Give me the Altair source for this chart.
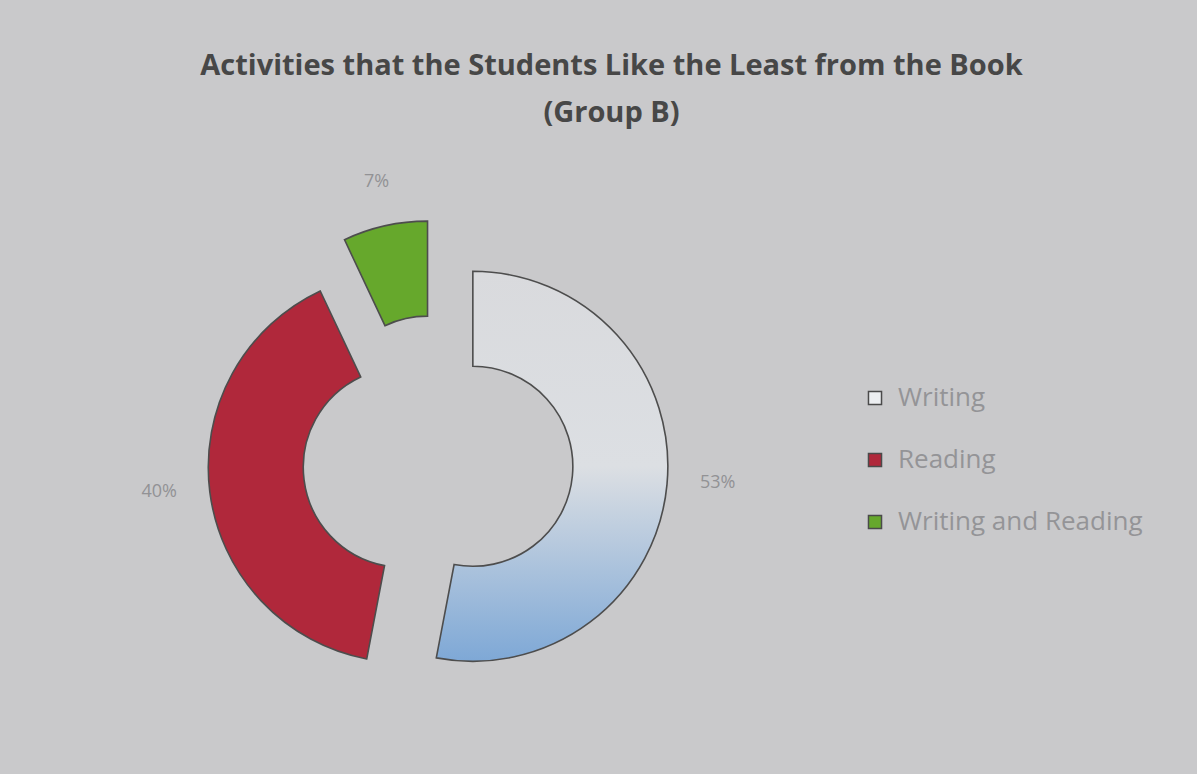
import math
import altair as alt
import pandas as pd

# ---- data ----
categories = ["Writing", "Reading", "Writing and Reading"]
values = [53, 40, 7]
label_texts = ["53%", "40%", "7%"]

# ---- styles ----
colors = ["#eceef1", "#b0283b", "#66a82c"]
explode = [35, 35, 48]
label_radius = [246, 246, 234]

W, H = 1197, 774
TOP = 140
CX, CY = 438, 463 - TOP
R_IN, R_OUT = 100, 195
FONT = "Open Sans"

df = pd.DataFrame({"category": categories, "value": values,
                   "label": label_texts, "order": list(range(len(categories)))})
total = sum(values)
theta_scale = alt.Scale(domain=[0, total], range=[0, 2 * math.pi])

base = alt.Chart(df).transform_window(
    end="sum(value)", sort=[alt.SortField("order")], frame=[None, 0]
).transform_calculate(
    start="datum.end - datum.value",
    mid="datum.end - datum.value / 2",
)

gradient = alt.Gradient(
    gradient="linear",
    stops=[alt.GradientStop(color="#d9dadd", offset=0),
           alt.GradientStop(color="#dcdfe3", offset=0.5),
           alt.GradientStop(color="#7ea8d6", offset=1)],
    x1=0, x2=0, y1=0, y2=1,
)

legend = alt.Legend(
    title=None, orient="none", legendX=862, legendY=245,
    symbolType="square", symbolSize=170, symbolStrokeColor="#4a4a4a",
    symbolStrokeWidth=1.5, labelFontSize=26, labelColor="#949497",
    labelFont=FONT, rowPadding=36, labelOffset=10, labelLimit=0,
)

layers = []
cum = 0
for i, cat in enumerate(categories):
    v = values[i]
    mid = (cum + v / 2) / total * 2 * math.pi
    cum += v
    dx = explode[i] * math.sin(mid)
    dy = -explode[i] * math.cos(mid)
    sub = base.transform_filter(alt.datum.category == cat)
    kw = dict(innerRadius=R_IN, outerRadius=R_OUT, x=CX, y=CY,
              xOffset=dx, yOffset=dy, stroke="#4d4d4d", strokeWidth=1.6)
    enc = dict(theta=alt.Theta("start:Q", scale=theta_scale), theta2="end:Q")
    if i == 0:
        arc = sub.mark_arc(fill=gradient, **kw).encode(**enc)
    else:
        arc = sub.mark_arc(**kw).encode(
            fill=alt.Fill("category:N",
                          scale=alt.Scale(domain=categories, range=colors),
                          legend=legend),
            **enc)
    txt = sub.mark_text(radius=label_radius[i], x=CX, y=CY, xOffset=dx,
                        yOffset=dy - 6, fontSize=18, color="#929295",
                        font=FONT).encode(
        theta=alt.Theta("mid:Q", scale=theta_scale), text="label:N")
    layers += [arc, txt]

chart = alt.layer(*layers).properties(
    width=W, height=H - TOP,
    padding={"left": 0, "top": TOP, "right": 0, "bottom": 0},
    autosize=alt.AutoSizeParams(type="none"),
    background="#c9c9cb",
    title=alt.TitleParams(
        ["Activities that the Students Like the Least from the Book", "(Group B)"],
        fontSize=29, font=FONT, fontWeight="bold", color="#474747",
        lineHeight=47, anchor="middle", dx=13, offset=12,
    ),
).configure_view(stroke=None)

chart.save("out.html", embed_options={"renderer": "svg", "actions": False})
